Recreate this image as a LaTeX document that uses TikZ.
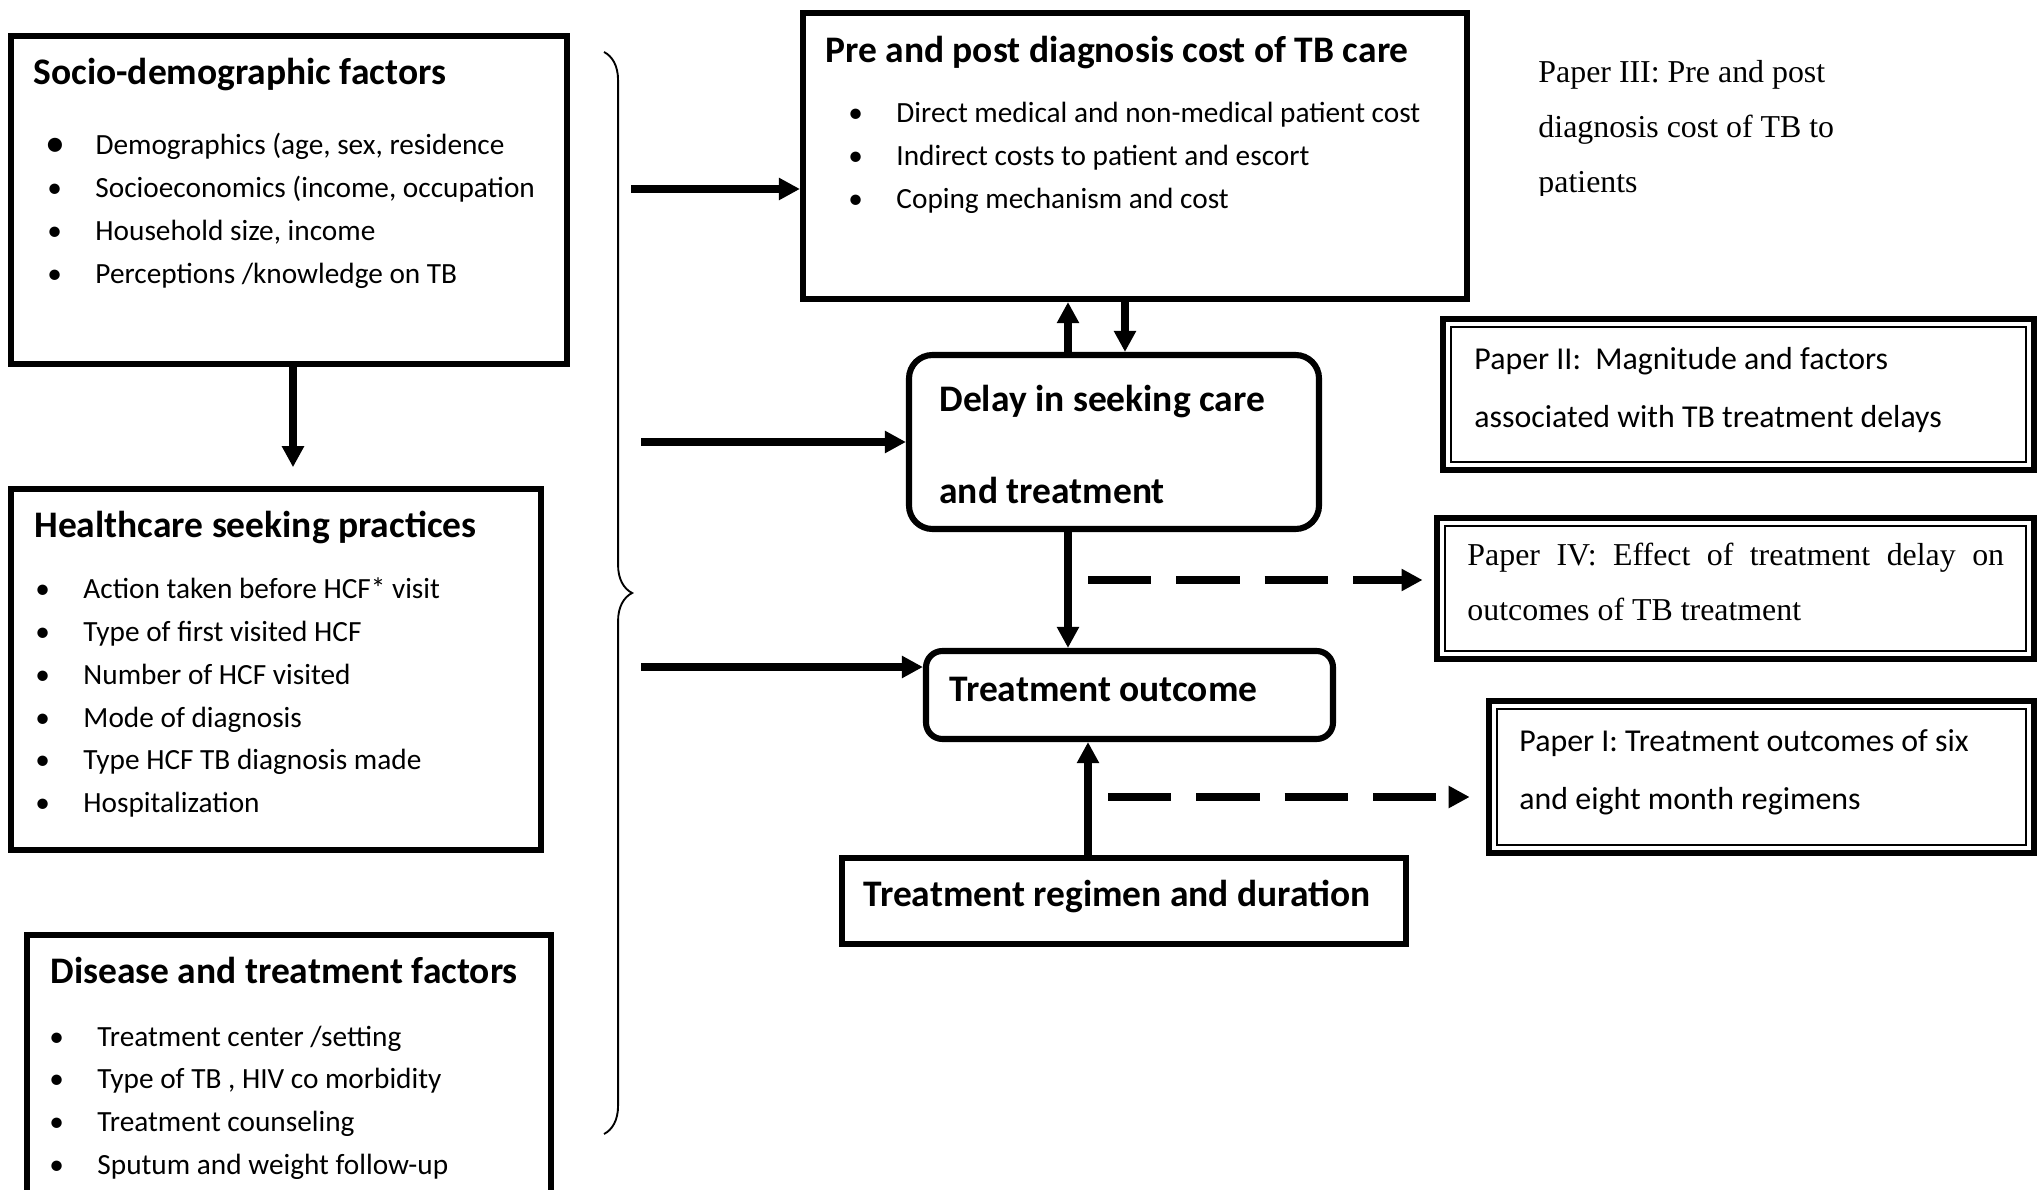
\documentclass[tikz,border=0pt]{standalone}
\usepackage{fontspec}
\setmainfont{Carlito}
\newfontfamily\tnr{Liberation Serif}
\usetikzlibrary{arrows.meta, positioning, calc, fit, decorations.pathreplacing}
\renewcommand{\arraystretch}{1.215}
\newcommand{\bul}{\makebox[20.5pt][l]{\textbullet}}
\newcommand{\bigbul}{\makebox[20.5pt][l]{\hspace{-1pt}\raisebox{-0.6pt}{\fontsize{17}{17}\selectfont\textbullet}}}

\begin{document}
\begin{tikzpicture}[
  x=0.015cm, y=-0.015cm,
  box/.style={draw, line width=2.6pt, inner sep=0pt},
  roundbox/.style={box, rounded corners=10pt},
  paperbox/.style={draw, line width=2.9pt, inner sep=0pt},
  head/.style={anchor=base west, inner sep=0pt, font=\fontsize{16}{19.2}\selectfont\bfseries},
  list/.style={anchor=base west, inner sep=0pt, font=\fontsize{12.5}{15}\selectfont},
  ptext/.style={anchor=base west, inner sep=0pt, font=\fontsize{13.6}{20.2}\selectfont},
  arr/.style={-{Triangle[length=9pt, width=9pt]}, line width=3pt},
  dasharr/.style={arr, dash pattern=on 27pt off 10.7pt}
]
  \path[use as bounding box, fill=white] (0,0) rectangle (2044,1190);

  % left column
  \node[box, fit={(11,36) (567,364)}] (socio) {};
  \node[head] (socio-h) at (33,85) {Socio-demographic factors};
  \node[list] (socio-l) at (47,155) {\begin{tabular}[t]{@{}l@{}}
    \bigbul Demographics (age, sex, residence\\
    \bul Socioeconomics (income, occupation\\
    \bul Household size, income\\
    \bul Perceptions /knowledge on TB
  \end{tabular}};

  \node[box, fit={(11,489) (541,850)}] (health) {};
  \node[head] (health-h) at (34,538) {Healthcare seeking practices};
  \node[list] (health-l) at (35,599) {\begin{tabular}[t]{@{}l@{}}
    \bul Action taken before HCF* visit\\
    \bul Type of first visited HCF\\
    \bul Number of HCF visited\\
    \bul Mode of diagnosis\\
    \bul Type HCF TB diagnosis made\\
    \bul Hospitalization
  \end{tabular}};

  \node[box, fit={(27,935) (551,1215)}] (disease) {};
  \node[head] (disease-h) at (50,983) {Disease and treatment factors};
  \node[list] (disease-l) at (49,1046) {\begin{tabular}[t]{@{}l@{}}
    \bul Treatment center /setting\\
    \bul Type of TB , HIV co morbidity\\
    \bul Treatment counseling\\
    \bul Sputum and weight follow-up
  \end{tabular}};

  \draw[decorate, decoration={brace, amplitude=12pt}, line width=0.8pt] (604,52) -- (604,1134);

  % middle column
  \node[box, fit={(803,13) (1467,299)}] (cost) {};
  \node[head] (cost-h) at (825,63) {Pre and post diagnosis cost of TB care};
  \node[list] (cost-l) at (848,123) {\begin{tabular}[t]{@{}l@{}}
    \bul Direct medical and non-medical patient cost\\
    \bul Indirect costs to patient and escort\\
    \bul Coping mechanism and cost
  \end{tabular}};

  \node[roundbox, fit={(909,355) (1319,529)}] (delay) {};
  \node[head, font=\fontsize{16}{32}\selectfont\bfseries] (delay-t) at (939,412)
    {\begin{tabular}[t]{@{}l@{}}Delay in seeking care\\and treatment\end{tabular}};

  \node[roundbox, rounded corners=7pt, fit={(926,651) (1333,739)}] (outcome) {};
  \node[head] (outcome-t) at (949,702) {Treatment outcome};

  \node[box, fit={(842,858) (1406,944)}] (regimen) {};
  \node[head] (regimen-t) at (863,907) {Treatment regimen and duration};

  % papers
  \begin{scope}
    \clip (1500,30) rectangle (1950,196);
    \node[ptext, font=\tnr\fontsize{13.6}{19.3}\selectfont] (paper3) at (1538,83)
      {\begin{tabular}[t]{@{}l@{}}Paper III: Pre and post\\diagnosis cost of TB to\\patients\end{tabular}};
  \end{scope}

  \node[paperbox, fit={(1443,319) (2034,470)}] (paper2) {};
  \draw[line width=0.85pt] ([shift={(11,11)}]paper2.north west) rectangle ([shift={(-11,-11)}]paper2.south east);
  \node[ptext] (paper2-t) at (1474,370)
    {\begin{tabular}[t]{@{}l@{}}Paper II:~ Magnitude and factors\\associated with TB treatment delays\end{tabular}};

  \node[paperbox, fit={(1437,518) (2034,659)}] (paper4) {};
  \draw[line width=0.85pt] ([shift={(11,11)}]paper4.north west) rectangle ([shift={(-11,-11)}]paper4.south east);
  \node[ptext, font=\tnr\fontsize{13.6}{19.3}\selectfont] (paper4-t) at (1467,566)
    {\begin{tabular}[t]{@{}l@{}}\makebox[229pt][s]{Paper IV: Effect of treatment delay on}\\outcomes of TB treatment\end{tabular}};

  \node[paperbox, fit={(1489,701) (2034,853)}] (paper1) {};
  \draw[line width=0.85pt] ([shift={(11,11)}]paper1.north west) rectangle ([shift={(-11,-11)}]paper1.south east);
  \node[ptext] (paper1-t) at (1519,752)
    {\begin{tabular}[t]{@{}l@{}}Paper I: Treatment outcomes of six\\and eight month regimens\end{tabular}};

  % connectors
  \coordinate (c0) at (293,0);
  \coordinate (c1) at (1068,0);
  \coordinate (c2) at (1125,0);
  \coordinate (c3) at (1088,0);
  \coordinate (b1) at (631,189);
  \coordinate (b2) at (641,442);
  \coordinate (b3) at (641,667);
  \coordinate (d1) at (1088,580);
  \coordinate (d2) at (1108,797);

  \draw[arr, shorten >=8pt] (socio.south -| c0) -- (health.north -| c0);
  \draw[arr] (b1) -- (b1 -| cost.west);
  \draw[arr] (b2) -- (b2 -| delay.west);
  \draw[arr] (b3) -- (b3 -| outcome.west);
  \draw[arr] (delay.north -| c1) -- (cost.south -| c1);
  \draw[arr] (cost.south -| c2) -- (delay.north -| c2);
  \draw[arr] (delay.south -| c1) -- (outcome.north -| c1);
  \draw[arr] (regimen.north -| c3) -- (outcome.south -| c3);
  \draw[dasharr, shorten >=4.7pt] (d1) -- (d1 -| paper4.west);
  \draw[dasharr, shorten >=6.8pt] (d2) -- (d2 -| paper1.west);
\end{tikzpicture}
\end{document}
